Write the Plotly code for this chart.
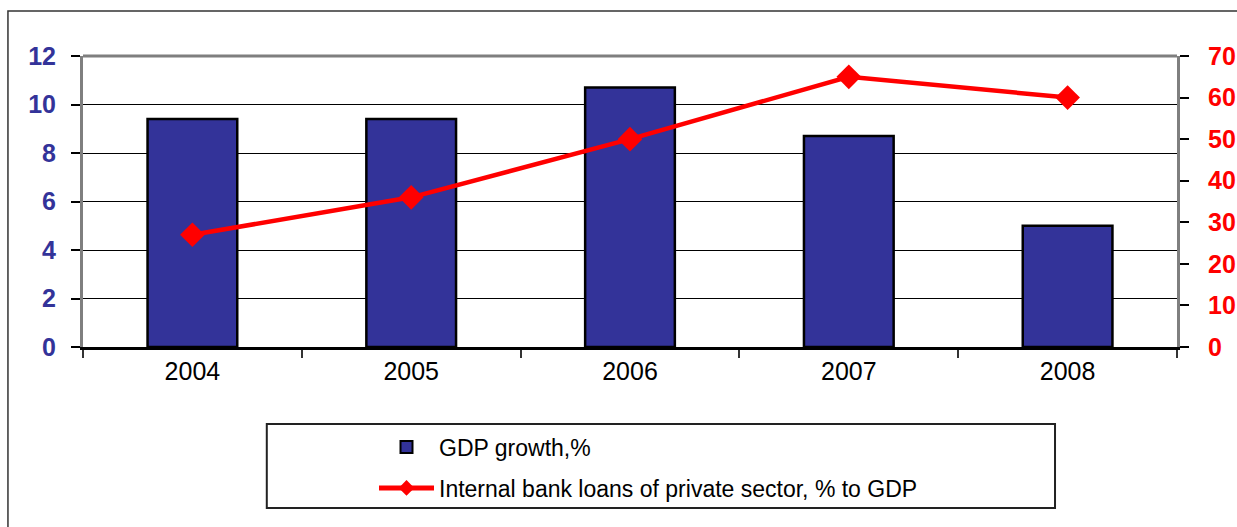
import plotly.graph_objects as go

years = ["2004", "2005", "2006", "2007", "2008"]
gdp_growth = [9.4, 9.4, 10.7, 8.7, 5.0]
bank_loans = [27, 36, 50, 65, 60]
left_ticks = [0, 2, 4, 6, 8, 10, 12]
right_ticks = [0, 10, 20, 30, 40, 50, 60, 70]

FONT = "Liberation Sans, Arial, sans-serif"

fig = go.Figure()
fig.add_trace(go.Bar(
    x=years, y=gdp_growth, name="GDP growth,%",
    marker=dict(color="#333399", line=dict(color="black", width=2.5)),
    legendgroup="a", yaxis="y",
))
fig.add_trace(go.Scatter(
    x=years, y=bank_loans, name="Internal bank loans of private sector, % to GDP",
    mode="lines+markers",
    line=dict(color="#FF0000", width=4.5),
    marker=dict(symbol="diamond", size=19, color="#FF0000"),
    legendgroup="b", yaxis="y2",
))

fig.update_layout(
    width=1237, height=527, autosize=False,
    margin=dict(l=83, r=60, t=56, b=180, pad=0, autoexpand=False),
    paper_bgcolor="white", plot_bgcolor="white",
    font=dict(family=FONT, color="black"),
    bargap=0.59,
    showlegend=True,
    legend=dict(
        orientation="v", x=0.266, xanchor="left", y=-0.27, yanchor="top",
        font=dict(family=FONT, size=23, color="black"),
        bgcolor="rgba(0,0,0,0)", borderwidth=0,
        itemwidth=55, tracegroupgap=8, itemsizing="constant",
    ),
    xaxis=dict(
        type="category", showgrid=False, showline=True, linecolor="black", linewidth=2.5,
        ticks="outside", tickson="boundaries", ticklen=8, tickwidth=1.5, tickcolor="#333",
        tickfont=dict(family=FONT, size=25, color="black"),
        zeroline=False, fixedrange=True, automargin=False,
    ),
    yaxis=dict(
        range=[0, 12], tickvals=left_ticks, ticktext=[str(v) for v in left_ticks],
        showgrid=True, gridcolor="black", gridwidth=1,
        showline=True, linecolor="#7f7f7f", linewidth=3,
        ticks="outside", ticklen=9, tickwidth=1.5, tickcolor="black",
        tickfont=dict(family=FONT, size=25, color="#333399", weight="bold"),
        ticklabelstandoff=10, zeroline=False, automargin=False,
    ),
    yaxis2=dict(
        range=[0, 70], tickvals=right_ticks, ticktext=[str(v) for v in right_ticks],
        overlaying="y", side="right", showgrid=False,
        showline=True, linecolor="#7f7f7f", linewidth=3,
        ticks="outside", ticklen=9, tickwidth=1.5, tickcolor="black",
        tickfont=dict(family=FONT, size=25, color="#FF0000", weight="bold"),
        ticklabelstandoff=14, zeroline=False, automargin=False,
    ),
    shapes=[
        dict(type="line", xref="paper", yref="paper", x0=0, x1=1, y0=1, y1=1,
             line=dict(color="#7f7f7f", width=3), layer="above"),
        dict(type="rect", xref="paper", yref="paper", x0=0.168, x1=0.8885,
             y0=-0.5533, y1=-0.2646, line=dict(color="#222", width=2), layer="above"),
        dict(type="rect", xref="paper", yref="paper", x0=-0.0686, x1=1.1,
             y0=-0.7, y1=1.1546, line=dict(color="#333", width=1.5), layer="above"),
    ],
)

fig.write_html("out.html")
